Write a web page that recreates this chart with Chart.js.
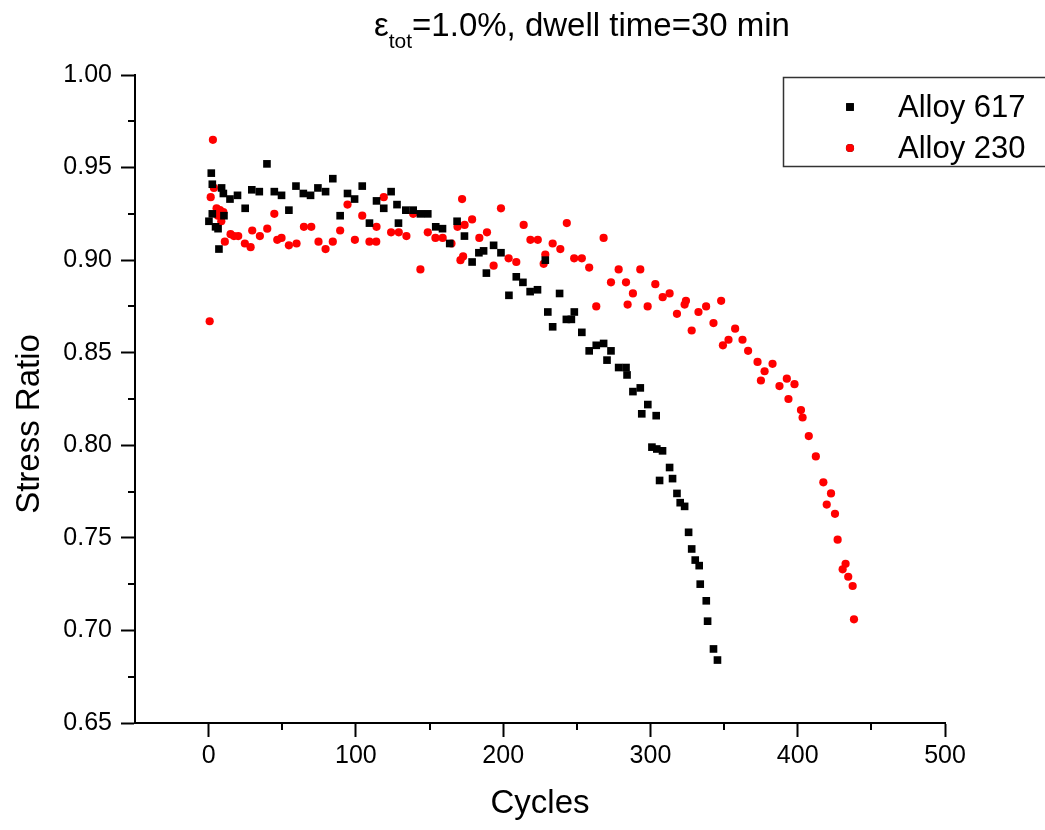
<!DOCTYPE html>
<html>
<head>
<meta charset="utf-8">
<script src="https://cdn.jsdelivr.net/npm/chart.js@4.4.1/dist/chart.umd.min.js"></script>
<style>
  html, body { margin: 0; padding: 0; background: #fff; }
  #wrap { width: 1045px; height: 830px; }
</style>
</head>
<body>
<div id="wrap"><canvas id="mycanvas" width="1045" height="830"></canvas></div>
<script>
// Alloy 617 (black squares)
var cycles617 = [0.2, 1.8, 2.5, 2.5, 4.7, 6.4, 7.0, 8.8, 10.0, 10.4, 14.5, 19.6, 24.8, 29.3, 34.4, 39.6, 44.6, 49.5, 54.5, 59.3,
  64.3, 69.2, 74.2, 79.4, 84.3, 89.3, 94.3, 99.1, 104.3, 109.2, 114.0, 118.9, 123.9, 127.9, 128.9, 133.9, 138.9, 143.8, 148.8, 154.2,
  158.8, 163.7, 168.7, 173.7, 178.9, 183.5, 186.7, 188.6, 193.5, 198.5, 203.9, 208.9, 213.4, 218.3, 223.3, 228.6, 230.3, 233.6, 238.3, 242.9,
  246.3, 248.3, 253.4, 258.4, 263.2, 268.2, 270.5, 273.2, 278.4, 283.4, 284.1, 288.1, 293.1, 294.1, 298.2, 301.0, 303.9, 304.3, 306.2, 308.2,
  313.0, 315.0, 318.0, 320.2, 323.2, 325.9, 328.0, 330.4, 333.1, 333.8, 337.9, 338.8, 342.8, 345.5];
var ratio617 = [0.921, 0.947, 0.941, 0.925, 0.918, 0.917, 0.906, 0.939, 0.936, 0.924, 0.933, 0.935, 0.928, 0.938, 0.937, 0.952, 0.937, 0.935, 0.927, 0.940,
  0.936, 0.935, 0.939, 0.937, 0.944, 0.924, 0.936, 0.933, 0.940, 0.920, 0.932, 0.928, 0.937, 0.930, 0.920, 0.927, 0.927, 0.925, 0.925, 0.918,
  0.917, 0.909, 0.921, 0.913, 0.899, 0.904, 0.905, 0.893, 0.908, 0.904, 0.881, 0.891, 0.888, 0.883, 0.884, 0.900, 0.872, 0.864, 0.882, 0.868,
  0.868, 0.872, 0.861, 0.851, 0.854, 0.855, 0.846, 0.851, 0.842, 0.842, 0.838, 0.829, 0.831, 0.817, 0.822, 0.799, 0.816, 0.798, 0.781, 0.797,
  0.788, 0.782, 0.774, 0.769, 0.767, 0.753, 0.744, 0.738, 0.735, 0.725, 0.716, 0.705, 0.690, 0.684];

// Alloy 230 (red circles)
var cycles230 = [0.7, 1.4, 2.9, 3.6, 5.4, 6.3, 7.7, 8.6, 10.0, 11.0, 14.9, 17.2, 20.1, 24.6, 28.5, 29.6, 34.8, 39.8, 44.6, 46.6,
  49.5, 54.5, 59.7, 64.7, 69.7, 74.6, 79.4, 84.3, 89.3, 94.3, 99.3, 104.3, 109.2, 113.8, 114.0, 118.9, 123.9, 129.1, 134.3, 138.9,
  143.8, 148.8, 154.0, 158.9, 164.9, 169.0, 171.0, 172.1, 172.8, 173.8, 178.9, 183.8, 189.0, 193.5, 198.5, 203.7, 208.9, 213.9, 218.5, 223.5,
  227.5, 228.6, 233.6, 238.8, 243.2, 248.2, 253.4, 258.4, 263.2, 268.2, 273.2, 278.4, 283.4, 284.5, 288.1, 293.1, 298.1, 303.3, 308.3, 313.0,
  318.0, 323.2, 324.1, 328.0, 332.6, 337.8, 342.8, 348.0, 349.2, 353.0, 357.5, 362.5, 366.3, 372.7, 375.0, 377.5, 382.9, 387.6, 392.6, 393.7,
  397.8, 402.2, 403.3, 407.5, 412.3, 417.4, 419.7, 422.6, 425.3, 427.1, 430.5, 432.5, 434.3, 437.3, 438.2];
var ratio230 = [0.867, 0.934, 0.965, 0.939, 0.928, 0.924, 0.927, 0.921, 0.926, 0.910, 0.914, 0.913, 0.913, 0.909, 0.907, 0.916, 0.913, 0.917, 0.925, 0.911,
  0.912, 0.908, 0.909, 0.918, 0.918, 0.910, 0.906, 0.910, 0.916, 0.930, 0.911, 0.924, 0.910, 0.910, 0.918, 0.934, 0.915, 0.915, 0.913, 0.925,
  0.895, 0.915, 0.912, 0.912, 0.909, 0.918, 0.900, 0.933, 0.902, 0.919, 0.922, 0.912, 0.915, 0.897, 0.928, 0.901, 0.899, 0.919, 0.911, 0.911,
  0.898, 0.903, 0.909, 0.906, 0.920, 0.901, 0.901, 0.896, 0.875, 0.912, 0.888, 0.895, 0.888, 0.876, 0.882, 0.895, 0.875, 0.887, 0.880, 0.882,
  0.871, 0.876, 0.878, 0.862, 0.872, 0.875, 0.866, 0.878, 0.854, 0.857, 0.863, 0.857, 0.851, 0.845, 0.835, 0.840, 0.844, 0.832, 0.836, 0.825,
  0.833, 0.819, 0.815, 0.805, 0.794, 0.780, 0.768, 0.774, 0.763, 0.749, 0.733, 0.736, 0.729, 0.724, 0.706];

var xTicks = [0, 100, 200, 300, 400, 500];
var xMinorTicks = [50, 150, 250, 350, 450];
var yTicks = [0.65, 0.70, 0.75, 0.80, 0.85, 0.90, 0.95, 1.00];
var yMinorTicks = [0.675, 0.725, 0.775, 0.825, 0.875, 0.925, 0.975];
var seriesNames = ['Alloy 617', 'Alloy 230'];

var FONT = '"Liberation Sans", Arial, sans-serif';

function toPoints(xs, ys) {
	var out = [];
	for (var i = 0; i < xs.length; i++) {
		out.push({x: xs[i], y: ys[i]});
	}
	return out;
}

// title, y title, legend and minor ticks
var extras = {
	id: 'extras',
	afterDraw: function(chart) {
		var ctx = chart.ctx;
		var xs = chart.scales.x, ys = chart.scales.y;
		var area = chart.chartArea;

		ctx.save();
		ctx.strokeStyle = '#000';
		ctx.lineWidth = 2;
		ctx.beginPath();
		xMinorTicks.forEach(function(v) {
			var px = Math.round(xs.getPixelForValue(v));
			ctx.moveTo(px, area.bottom);
			ctx.lineTo(px, area.bottom + 7);
		});
		yMinorTicks.forEach(function(v) {
			var py = Math.round(ys.getPixelForValue(v));
			ctx.moveTo(area.left - 7, py);
			ctx.lineTo(area.left, py);
		});
		ctx.stroke();

		// main title with subscript
		ctx.fillStyle = '#000';
		ctx.textBaseline = 'alphabetic';
		ctx.textAlign = 'left';
		var big = '33px ' + FONT, small = '21px ' + FONT;
		ctx.font = big;
		var w1 = ctx.measureText('\u03b5').width;
		var w3 = ctx.measureText('=1.0%, dwell time=30 min').width;
		ctx.font = small;
		var w2 = ctx.measureText('tot').width;
		var x0 = 582 - (w1 + w2 + w3) / 2;
		ctx.font = big;
		ctx.fillText('\u03b5', x0, 36);
		ctx.font = small;
		ctx.fillText('tot', x0 + w1, 48);
		ctx.font = big;
		ctx.fillText('=1.0%, dwell time=30 min', x0 + w1 + w2, 36);

		// y axis title
		ctx.save();
		ctx.translate(30, 424);
		ctx.rotate(-Math.PI / 2);
		ctx.textAlign = 'center';
		ctx.textBaseline = 'middle';
		ctx.font = '33px ' + FONT;
		ctx.fillText('Stress Ratio', 0, 0);
		ctx.restore();

		// legend box
		ctx.strokeStyle = '#333';
		ctx.lineWidth = 1.5;
		ctx.strokeRect(783.5, 77.5, 275, 89);
		var rows = [107, 148];
		chart.data.datasets.forEach(function(ds, i) {
			Chart.helpers.drawPoint(ctx, {
				pointStyle: ds.pointStyle, radius: ds.pointRadius, borderWidth: 0
			}, 850, rows[i]);
			ctx.fillStyle = ds.backgroundColor;
			ctx.fill();
			ctx.fillStyle = '#000';
			ctx.font = '31px ' + FONT;
			ctx.textAlign = 'left';
			ctx.textBaseline = 'middle';
			ctx.fillText(seriesNames[i], 898, rows[i] + 1);
		});
		ctx.restore();
	}
};

var ctx = document.getElementById('mycanvas');

var chart = new Chart(ctx, {
	type: 'scatter',
	data: {
		datasets: [
			{
				label: seriesNames[0],
				data: toPoints(cycles617, ratio617),
				pointStyle: 'rect',
				pointRadius: 5.4,
				backgroundColor: '#000000',
				borderWidth: 0
			},
			{
				label: seriesNames[1],
				data: toPoints(cycles230, ratio230),
				pointStyle: 'circle',
				pointRadius: 4.1,
				backgroundColor: '#ff0000',
				borderWidth: 0
			}
		]
	},
	options: {
		responsive: false,
		animation: false,
		layout: { padding: { top: 75, right: 100, left: 0, bottom: 0 } },
		plugins: {
			legend: { display: false },
			tooltip: { enabled: false },
			title: { display: false }
		},
		scales: {
			x: {
				type: 'linear',
				min: -50,
				max: 500,
				afterBuildTicks: function(s) { s.ticks = xTicks.map(function(v) { return {value: v}; }); },
				afterFit: function(s) { s.height = 107; },
				grid: { drawOnChartArea: false, drawTicks: true, tickLength: 14, tickWidth: 2, tickColor: '#000' },
				border: { display: true, color: '#000', width: 2 },
				ticks: { color: '#000', font: { size: 25, family: FONT }, padding: 4, maxRotation: 0, autoSkip: false },
				title: { display: true, text: 'Cycles', color: '#000', font: { size: 33, family: FONT }, padding: { top: 0, bottom: 6 } }
			},
			y: {
				type: 'linear',
				min: 0.65,
				max: 1.00,
				afterBuildTicks: function(s) { s.ticks = yTicks.map(function(v) { return {value: v}; }); },
				afterFit: function(s) { s.width = 135; },
				grid: { drawOnChartArea: false, drawTicks: true, tickLength: 14, tickWidth: 2, tickColor: '#000' },
				border: { display: true, color: '#000', width: 2 },
				ticks: {
					color: '#000', font: { size: 25, family: FONT }, padding: 9, autoSkip: false,
					callback: function(v) { return Number(v).toFixed(2); }
				}
			}
		}
	},
	plugins: [extras]
});
</script>
</body>
</html>
